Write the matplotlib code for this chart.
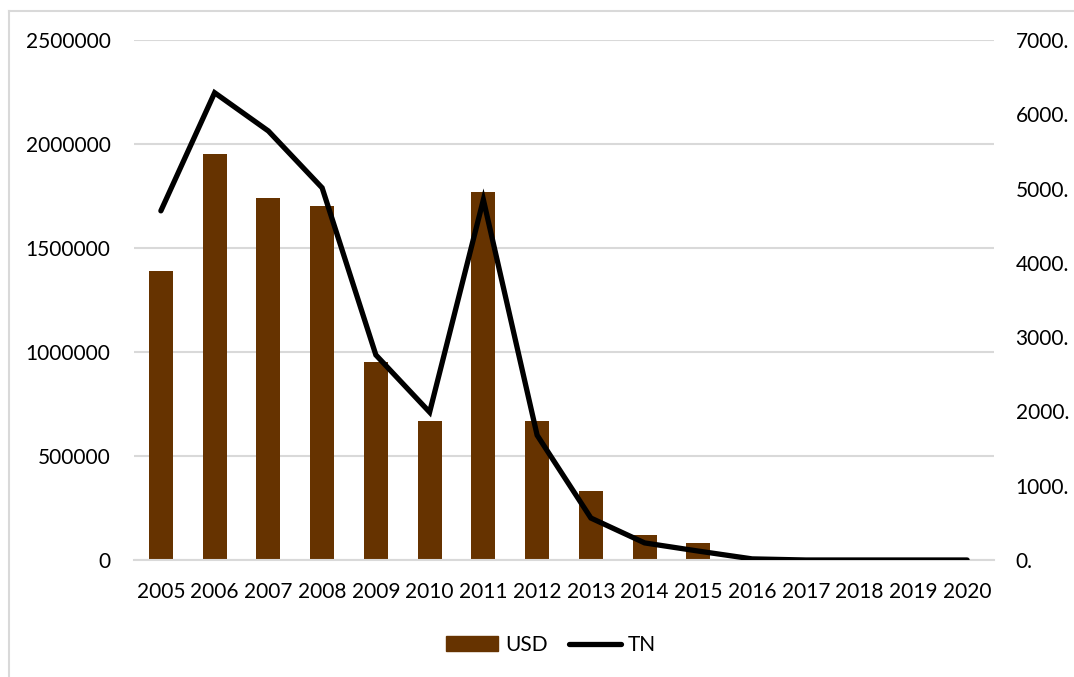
import matplotlib
matplotlib.use("Agg")

import numpy as np
import matplotlib.pyplot as plt
from matplotlib.lines import Line2D
from matplotlib.ticker import FuncFormatter

years = ["2005", "2006", "2007", "2008", "2009", "2010", "2011", "2012",
         "2013", "2014", "2015", "2016", "2017", "2018", "2019", "2020"]
usd = [1390000, 1952000, 1740000, 1702000, 952000, 668000, 1769000, 668000,
       332000, 120000, 82000, 0, 0, 0, 0, 0]
tn = [4700, 6290, 5775, 5010, 2760, 1990, 4850, 1680,
      565, 230, 120, 15, 0, 0, 0, 0]

left_ticks = [0, 500000, 1000000, 1500000, 2000000, 2500000]
right_ticks = [0, 1000, 2000, 3000, 4000, 5000, 6000, 7000]

plt.rcParams["font.family"] = ["Lato", "DejaVu Sans"]
plt.rcParams["font.size"] = 15

W, H = 1074, 677
fig = plt.figure(figsize=(W / 100, H / 100), dpi=100)

# outer frame (light gray), only left and top edges are in view
fig.add_artist(Line2D([9 / W, 9 / W], [0, 1 - 11 / H], transform=fig.transFigure,
                      color="#d9d9d9", lw=1.5))
fig.add_artist(Line2D([9 / W, 1], [1 - 11 / H, 1 - 11 / H], transform=fig.transFigure,
                      color="#d9d9d9", lw=1.5))

ax = fig.add_axes([134 / W, 117 / H, 860 / W, 520 / H])
x = np.arange(len(years))

ax.bar(x, usd, width=0.45, color="#663300", label="USD", zorder=2)
ax.set_xlim(-0.5, len(years) - 0.5)
ax.set_ylim(0, 2500000)
ax.set_yticks(left_ticks)
ax.yaxis.set_major_formatter(FuncFormatter(lambda v, p: f"{int(v)}"))
ax.set_xticks(x)
ax.set_xticklabels(years)
ax.grid(axis="y", color="#d9d9d9", lw=1.5, zorder=0)
ax.set_axisbelow(True)
for s in ["top", "right", "left"]:
    ax.spines[s].set_visible(False)
ax.spines["bottom"].set_color("#d9d9d9")
ax.spines["bottom"].set_linewidth(1.5)
ax.tick_params(axis="both", length=0, colors="black")
ax.tick_params(axis="y", pad=17)
ax.tick_params(axis="x", pad=16)

ax2 = ax.twinx()
ax2.plot(x, tn, color="black", lw=3.8, solid_capstyle="round",
         solid_joinstyle="miter", label="TN", zorder=3)
ax2.set_ylim(0, 7000)
ax2.set_yticks(right_ticks)
ax2.yaxis.set_major_formatter(FuncFormatter(lambda v, p: f"{int(v)}."))
for s in ax2.spines.values():
    s.set_visible(False)
ax2.tick_params(axis="y", length=0, pad=15.5)

handles = [plt.Rectangle((0, 0), 1, 1, color="#663300"),
           Line2D([0], [0], color="black", lw=3.8, solid_capstyle="round")]
fig.legend(handles, ["USD", "TN"], loc="center", bbox_to_anchor=(551 / W, 1 - 645 / H),
           ncol=2, frameon=False, handlelength=2.5, handletextpad=0.35,
           columnspacing=1.0)

fig.savefig("out.png", dpi=100)
